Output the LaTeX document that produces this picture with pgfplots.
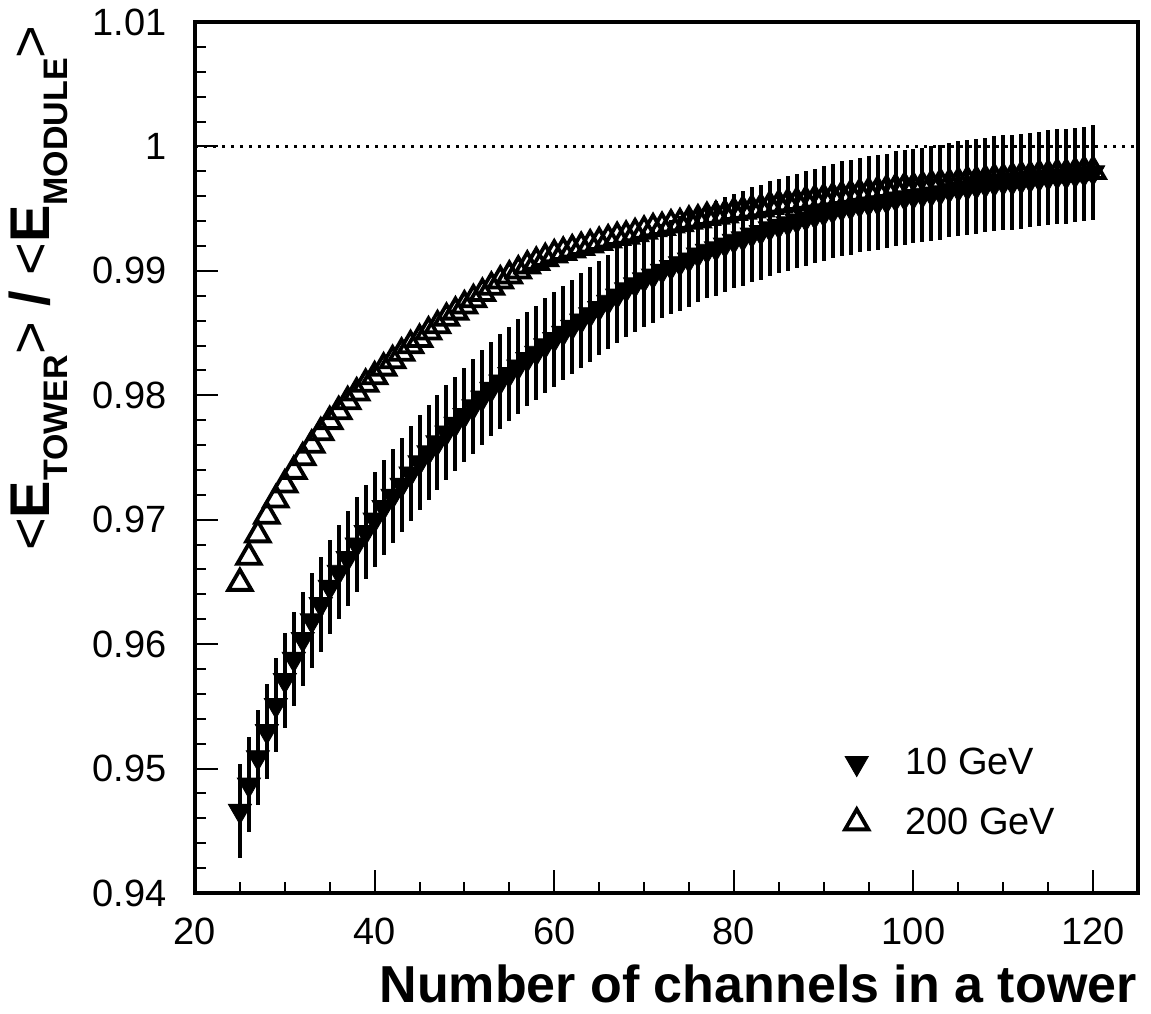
\documentclass[border=0pt]{standalone}
\usepackage{fontspec}
\setmainfont{Liberation Sans}
\usepackage{pgfplots}
\pgfplotsset{compat=1.18}
\usepackage{pgfplotstable}

\pgfplotstableread{
x y e
25 0.9466 0.0038
26 0.9487 0.0038
27 0.9509 0.0038
28 0.9530 0.0038
29 0.9551 0.0038
30 0.9571 0.0038
31 0.9588 0.0038
32 0.9604 0.0038
33 0.9619 0.0038
34 0.9632 0.0038
35 0.9646 0.0038
36 0.9658 0.0038
37 0.9669 0.0038
38 0.9680 0.0038
39 0.9690 0.0038
40 0.9700 0.0038
41 0.9710 0.0038
42 0.9719 0.0038
43 0.9728 0.0038
44 0.9737 0.0038
45 0.9746 0.0038
46 0.9754 0.0038
47 0.9762 0.0038
48 0.9770 0.0038
49 0.9777 0.0038
50 0.9784 0.0038
51 0.9791 0.0038
52 0.9798 0.0038
53 0.9805 0.0038
54 0.9811 0.0038
55 0.9817 0.0038
56 0.9823 0.0038
57 0.9829 0.0038
58 0.9834 0.0038
59 0.9840 0.0038
60 0.9845 0.0038
61 0.9850 0.0038
62 0.9855 0.0038
63 0.9860 0.0038
64 0.9865 0.0038
65 0.9870 0.0038
66 0.9875 0.0038
67 0.9880 0.0038
68 0.9885 0.0038
69 0.9889 0.0038
70 0.9893 0.0038
71 0.9896 0.0038
72 0.9900 0.0038
73 0.9903 0.0038
74 0.9906 0.0038
75 0.9909 0.0038
76 0.9913 0.0038
77 0.9916 0.0038
78 0.9918 0.0038
79 0.9921 0.0038
80 0.9924 0.0038
81 0.9926 0.0038
82 0.9929 0.0038
83 0.9931 0.0038
84 0.9934 0.0038
85 0.9936 0.0038
86 0.9938 0.0038
87 0.9940 0.0038
88 0.9942 0.0038
89 0.9944 0.0038
90 0.9946 0.0038
91 0.9948 0.0038
92 0.9950 0.0038
93 0.9951 0.0038
94 0.9953 0.0038
95 0.9954 0.0038
96 0.9955 0.0038
97 0.9956 0.0038
98 0.9958 0.0038
99 0.9959 0.0038
100 0.9960 0.0038
101 0.9961 0.0038
102 0.9962 0.0038
103 0.9963 0.0038
104 0.9965 0.0038
105 0.9966 0.0038
106 0.9967 0.0038
107 0.9968 0.0038
108 0.9969 0.0038
109 0.9970 0.0038
110 0.9971 0.0038
111 0.9971 0.0038
112 0.9972 0.0038
113 0.9973 0.0038
114 0.9974 0.0038
115 0.9975 0.0038
116 0.9976 0.0038
117 0.9976 0.0038
118 0.9977 0.0038
119 0.9978 0.0038
120 0.9979 0.0038
}\tenGeV

\pgfplotstableread{
x y
25 0.9649
26 0.9670
27 0.9688
28 0.9703
29 0.9716
30 0.9728
31 0.9739
32 0.9750
33 0.9760
34 0.9770
35 0.9779
36 0.9787
37 0.9795
38 0.9802
39 0.9809
40 0.9815
41 0.9822
42 0.9828
43 0.9834
44 0.9840
45 0.9845
46 0.9851
47 0.9856
48 0.9862
49 0.9867
50 0.9872
51 0.9877
52 0.9882
53 0.9887
54 0.9892
55 0.9896
56 0.9900
57 0.9904
58 0.9907
59 0.9910
60 0.9913
61 0.9915
62 0.9917
63 0.9919
64 0.9921
65 0.9923
66 0.9925
67 0.9927
68 0.9928
69 0.9930
70 0.9932
71 0.9934
72 0.9935
73 0.9937
74 0.9938
75 0.9940
76 0.9941
77 0.9943
78 0.9944
79 0.9945
80 0.9947
81 0.9948
82 0.9949
83 0.9950
84 0.9952
85 0.9953
86 0.9954
87 0.9955
88 0.9956
89 0.9957
90 0.9958
91 0.9959
92 0.9960
93 0.9961
94 0.9962
95 0.9963
96 0.9964
97 0.9965
98 0.9966
99 0.9967
100 0.9967
101 0.9968
102 0.9969
103 0.9970
104 0.9970
105 0.9971
106 0.9972
107 0.9972
108 0.9973
109 0.9974
110 0.9974
111 0.9975
112 0.9976
113 0.9976
114 0.9977
115 0.9977
116 0.9978
117 0.9978
118 0.9979
119 0.9980
120 0.9980
}\twohGeV

\newcommand\sub[1]{\raisebox{-9pt}{\fontsize{17}{17}\selectfont\bfseries #1}}

\begin{document}
\begin{tikzpicture}
\useasboundingbox (-97.5pt,-60pt) rectangle (478pt,446.5pt);
\begin{axis}[
  at={(0pt,0pt)}, anchor=south west,
  scale only axis, width=471.5pt, height=435.5pt,
  xmin=20, xmax=125, ymin=0.94, ymax=1.01,
  xtick={20,40,60,80,100,120}, minor x tick num=3,
  ytick={0.94,0.95,0.96,0.97,0.98,0.99,1.00,1.01}, minor y tick num=4,
  scaled y ticks=false,
  tick pos=left, tick align=inside,
  major tick length=11.5pt, minor tick length=5.7pt,
  every tick/.style={black, line width=1pt},
  axis line style={line width=2pt},
  tick label style={font=\fontsize{19}{22}\selectfont},
  /pgf/number format/assume math mode=true,
  y tick label style={/pgf/number format/fixed, /pgf/number format/precision=2,
    anchor=east, inner sep=0pt, xshift=-14pt},
  x tick label style={anchor=north, inner sep=0pt, yshift=-12.5pt},
  legend style={at={(rel axis cs:0.689,0.1665)}, anchor=north west,
    draw=none, fill=none, inner sep=0pt, row sep=15pt, column sep=18.5pt,
    font=\fontsize{19}{22}\selectfont, nodes={inner sep=0pt}},
  legend cell align=left,
  legend image code/.code={\draw[#1] plot coordinates {(0pt,0pt)};},
]
\addplot[black, line width=1.5pt, dash pattern=on 1.5pt off 3pt, forget plot]
  coordinates {(20,1) (125,1)};
\addplot[forget plot, only marks, mark=triangle, mark size=6.7pt,
  mark options={line width=1.9pt, draw=black}]
  table[x=x, y=y] {\twohGeV};
\addplot[forget plot, only marks, mark=triangle*, mark size=6.7pt,
  mark options={rotate=180, fill=black, draw=black, line width=0.4pt},
  error bars/.cd, y dir=both, y explicit, error mark=none,
  error bar style={line width=2pt, black}]
  table[x=x, y=y, y error=e] {\tenGeV};
\addlegendimage{only marks, mark=triangle*, mark size=6.7pt,
  mark options={rotate=180, fill=black, draw=black, line width=0.4pt}}
\addlegendentry{10 GeV}
\addlegendimage{only marks, mark=triangle, mark size=6.7pt,
  mark options={line width=1.9pt, draw=black}}
\addlegendentry{200 GeV}
\end{axis}
\node[anchor=base east, inner sep=0pt, font=\bfseries\fontsize{26}{30}\selectfont]
  at (471pt,-54.5pt) {Number of channels in a tower};
\node[rotate=90, anchor=base east, inner sep=0pt, font=\fontsize{28}{32}\selectfont]
  at (-72.5pt,434pt) {<\textbf{E}\sub{TOWER}> \textbf{/} <\textbf{E}\sub{MODULE}>};
\end{tikzpicture}
\end{document}
